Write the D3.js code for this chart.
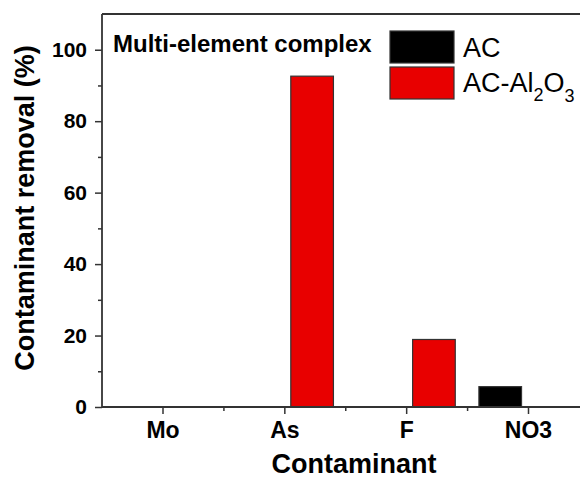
<!DOCTYPE html>
<html>
<head>
<meta charset="utf-8">
<script src="https://cdn.jsdelivr.net/npm/d3@7"></script>
<style>
  body { margin: 0; background: #fff; }
  svg { display: block; font-family: "Liberation Sans", Arial, sans-serif; }
</style>
</head>
<body>
<div id="chart"></div>
<script>
// data
var categories = ["Mo", "As", "F", "NO3"];
var seriesNames = ["AC", "AC-Al2O3"];
var acValues = [0, 0, 0, 5.7];
var acAlValues = [0, 92.6, 18.9, 0];
var yMajorTicks = [0, 20, 40, 60, 80, 100];
var yMinorTicks = [10, 30, 50, 70, 90];

var svgWidth = 580;
var svgHeight = 479;

var svg = d3.select("#chart")
    .append("svg")
    .attr("width", svgWidth)
    .attr("height", svgHeight);

// plot edges
var plotLeft = 102, plotRight = 580, plotTop = 14, plotBottom = 407;

var x = d3.scaleLinear().domain([0, 3]).range([162.5, 528]);
var y = d3.scaleLinear().domain([0, 110]).range([plotBottom, plotTop]);

var barWidth = 0.35;
var barOffset = 0.228;
var colors = ["#000000", "#e80000"];

// one record per bar
var bars = [];
[acValues, acAlValues].forEach(function(vals, s) {
    vals.forEach(function(v, i) {
        if (v > 0) bars.push({ i: i, v: v, s: s });
    });
});

svg.append("g").selectAll("rect")
    .data(bars)
    .enter()
    .append("rect")
    .attr("x", d => x(d.i + (d.s === 0 ? -barOffset : barOffset) - barWidth / 2))
    .attr("y", d => y(d.v))
    .attr("width", x(barWidth) - x(0))
    .attr("height", d => y(0) - y(d.v))
    .attr("fill", d => colors[d.s])
    .attr("stroke", "#333")
    .attr("stroke-width", 1.2);

// axes
var axisColor = "#333";

var yAxis = svg.append("g")
    .attr("transform", `translate(${plotLeft},0)`)
    .call(d3.axisLeft(y).tickValues(yMajorTicks).tickSize(7).tickPadding(8).tickSizeOuter(0));
yAxis.select(".domain").remove();
yAxis.selectAll("text")
    .attr("font-size", 21)
    .attr("font-weight", "bold")
    .attr("font-family", "Liberation Sans, Arial, sans-serif")
    .attr("fill", "#000");

svg.append("g")
    .attr("transform", `translate(${plotLeft},0)`)
    .call(d3.axisLeft(y).tickValues(yMinorTicks).tickSize(4).tickFormat(""))
    .select(".domain").remove();

var xAxis = svg.append("g")
    .attr("transform", `translate(0,${plotBottom})`)
    .call(d3.axisBottom(x).tickValues([0, 1, 2, 3]).tickFormat((d, i) => categories[i])
        .tickSize(7).tickPadding(8));
xAxis.select(".domain").remove();
xAxis.selectAll("text")
    .attr("font-size", 23)
    .attr("font-weight", "bold")
    .attr("font-family", "Liberation Sans, Arial, sans-serif")
    .attr("fill", "#000");

svg.append("g")
    .attr("transform", `translate(0,${plotBottom})`)
    .call(d3.axisBottom(x).tickValues([0.5, 1.5, 2.5]).tickSize(4).tickFormat(""))
    .select(".domain").remove();

svg.selectAll(".tick line").attr("stroke", axisColor).attr("stroke-width", 1.5);

// frame lines: left, bottom, top
svg.append("line").attr("x1", plotLeft).attr("x2", plotLeft).attr("y1", plotTop).attr("y2", plotBottom)
    .attr("stroke", axisColor).attr("stroke-width", 1.8);
svg.append("line").attr("x1", plotLeft).attr("x2", plotRight).attr("y1", plotBottom).attr("y2", plotBottom)
    .attr("stroke", axisColor).attr("stroke-width", 1.8);
svg.append("line").attr("x1", plotLeft).attr("x2", plotRight).attr("y1", plotTop).attr("y2", plotTop)
    .attr("stroke", axisColor).attr("stroke-width", 1.8);

// axis titles
svg.append("text")
    .attr("x", 354)
    .attr("y", 473)
    .attr("text-anchor", "middle")
    .attr("font-size", 27)
    .attr("font-weight", "bold")
    .text("Contaminant");

svg.append("text")
    .attr("transform", "translate(34,208) rotate(-90)")
    .attr("text-anchor", "middle")
    .attr("font-size", 27)
    .attr("font-weight", "bold")
    .text("Contaminant removal (%)");

// annotation
svg.append("text")
    .attr("x", 113)
    .attr("y", 52)
    .attr("font-size", 24)
    .attr("font-weight", "bold")
    .text("Multi-element complex");

// legend
var legend = svg.append("g");
legend.append("rect").attr("x", 390).attr("y", 31).attr("width", 64).attr("height", 32)
    .attr("fill", colors[0]).attr("stroke", "#333").attr("stroke-width", 1.2);
legend.append("rect").attr("x", 390).attr("y", 67).attr("width", 64).attr("height", 32)
    .attr("fill", colors[1]).attr("stroke", "#333").attr("stroke-width", 1.2);

legend.append("text").attr("x", 463).attr("y", 57).attr("font-size", 27).text(seriesNames[0]);

var t2 = legend.append("text").attr("x", 463).attr("y", 92).attr("font-size", 27);
t2.append("tspan").text("AC-Al");
t2.append("tspan").attr("font-size", 18).attr("dy", 9).text("2");
t2.append("tspan").attr("dy", -9).text("O");
t2.append("tspan").attr("font-size", 18).attr("dy", 10).text("3");
</script>
</body>
</html>
